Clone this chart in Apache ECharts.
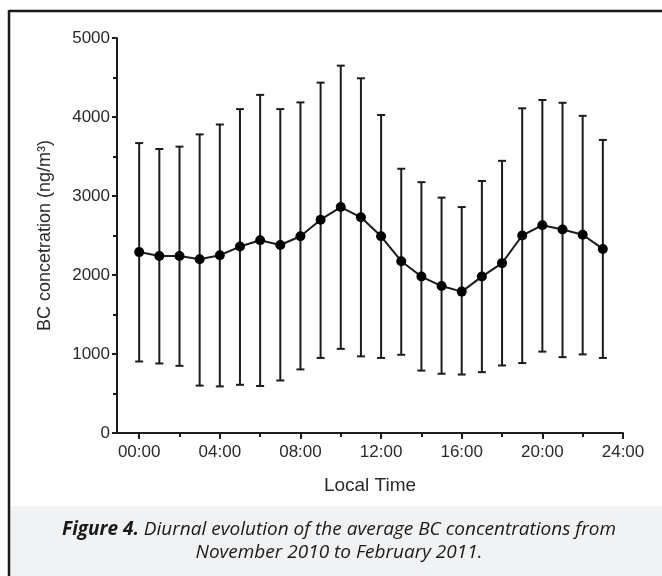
<!DOCTYPE html>
<html>
<head>
<meta charset="utf-8">
<script src="https://cdn.jsdelivr.net/npm/echarts@6/dist/echarts.min.js"></script>
<style>
  html, body { margin: 0; padding: 0; background: #ffffff; overflow: hidden; }
  #chart { width: 662px; height: 576px; }
</style>
</head>
<body>
<div id="chart"></div>
<script>
// Hour of day (local time)
const hours = [0,1,2,3,4,5,6,7,8,9,10,11,12,13,14,15,16,17,18,19,20,21,22,23];
// Average BC concentration (ng/m3)
const meanBC = [2290,2240,2240,2200,2250,2360,2440,2380,2490,2700,2860,2730,2490,2175,1980,1860,1790,1980,2150,2500,2630,2575,2510,2330];
// Upper end of error bar
const upperBC = [3670,3595,3625,3780,3905,4100,4280,4100,4185,4435,4650,4490,4025,3345,3175,2980,2860,3190,3445,4110,4215,4180,4015,3710];
// Lower end of error bar
const lowerBC = [905,880,850,600,590,610,595,665,805,950,1065,970,950,990,790,750,740,770,855,885,1030,960,995,950];
// Tick values
const xMajorTicks = [0,4,8,12,16,20,24];
const xMinorTicks = [2,6,10,14,18,22];

const ink = '#1c1c1c';
const labelFont = "'Liberation Sans', Arial, Helvetica, sans-serif";

const chart = echarts.init(document.getElementById('chart'), null, { renderer: 'canvas' });

const errData = hours.map((h, i) => [h, meanBC[i], lowerBC[i], upperBC[i]]);
const lineData = hours.map((h, i) => [h, meanBC[i]]);

const option = {
  animation: false,
  backgroundColor: 'transparent',
  textStyle: { fontFamily: labelFont },
  graphic: [
    { type: 'rect', z: -10, shape: { x: 10, y: 506, width: 652, height: 70 }, style: { fill: '#f1f2f4' } },
    { type: 'line', z: 10, shape: { x1: 9, y1: 11, x2: 662, y2: 11 }, style: { stroke: '#1a1a1a', lineWidth: 2.5 } },
    { type: 'line', z: 10, shape: { x1: 9, y1: 10, x2: 9, y2: 576 }, style: { stroke: '#1a1a1a', lineWidth: 2.5 } },
    {
      type: 'text', z: 10,
      style: {
        x: 339, y: 518,
        align: 'center', verticalAlign: 'top',
        text: '{b|Figure 4.}{i| Diurnal evolution of the average BC concentrations from}\n{i|November 2010 to February 2011.}',
        rich: {
          b: { fontFamily: 'Open Sans', fontStyle: 'italic', fontWeight: 'bold', fontSize: 19, lineHeight: 23, fill: '#1a1a1a' },
          i: { fontFamily: 'Open Sans', fontStyle: 'italic', fontSize: 19, lineHeight: 23, fill: '#1a1a1a' }
        }
      }
    }
  ],
  grid: { left: 117, right: 39, top: 38, bottom: 143, containLabel: false },
  xAxis: [
    {
      type: 'value', min: -1.1, max: 24,
      name: 'Local Time', nameLocation: 'middle', nameGap: 43,
      nameTextStyle: { fontFamily: labelFont, fontSize: 19, color: '#2a2a2a' },
      axisLine: { show: true, onZero: false, lineStyle: { color: ink, width: 2 } },
      axisTick: { show: true, customValues: xMajorTicks, length: 6, lineStyle: { color: ink, width: 2 } },
      axisLabel: {
        customValues: xMajorTicks, margin: 11,
        fontFamily: labelFont, fontSize: 17, color: '#2a2a2a',
        formatter: v => String(v).padStart(2, '0') + ':00'
      },
      splitLine: { show: false }
    },
    {
      type: 'value', min: -1.1, max: 24, position: 'bottom',
      axisLine: { show: false, onZero: false },
      axisTick: { show: true, customValues: xMinorTicks, length: 4, lineStyle: { color: ink, width: 2 } },
      axisLabel: { show: false },
      splitLine: { show: false }
    }
  ],
  yAxis: {
    type: 'value', min: 0, max: 5000, interval: 1000,
    name: 'BC concetration (ng/m³)', nameLocation: 'middle', nameGap: 63, nameRotate: 90,
    nameTextStyle: { fontFamily: labelFont, fontSize: 18, color: '#2a2a2a' },
    axisLine: { show: true, onZero: false, lineStyle: { color: ink, width: 2 } },
    axisTick: { show: true, length: 5, lineStyle: { color: ink, width: 2 } },
    minorTick: { show: true, splitNumber: 2, length: 4, lineStyle: { color: ink, width: 2 } },
    axisLabel: { margin: 7, fontFamily: labelFont, fontSize: 17, color: '#2a2a2a', formatter: v => String(v) },
    splitLine: { show: false }
  },
  series: [
    {
      type: 'custom',
      xAxisIndex: 0,
      data: errData,
      encode: { x: 0, y: [2, 3] },
      z: 2,
      renderItem: function (params, api) {
        const x = api.value(0);
        const top = api.coord([x, api.value(3)]);
        const bot = api.coord([x, api.value(2)]);
        const cw = 4;
        const st = { stroke: ink, lineWidth: 2 };
        return {
          type: 'group',
          children: [
            { type: 'line', shape: { x1: top[0], y1: top[1], x2: bot[0], y2: bot[1] }, style: st },
            { type: 'line', shape: { x1: top[0] - cw, y1: top[1], x2: top[0] + cw, y2: top[1] }, style: st },
            { type: 'line', shape: { x1: bot[0] - cw, y1: bot[1], x2: bot[0] + cw, y2: bot[1] }, style: st }
          ]
        };
      }
    },
    {
      type: 'line',
      xAxisIndex: 0,
      data: lineData,
      z: 3,
      symbol: 'circle',
      symbolSize: 10,
      lineStyle: { color: ink, width: 2 },
      itemStyle: { color: '#000000' }
    }
  ]
};

chart.setOption(option);
</script>
</body>
</html>
